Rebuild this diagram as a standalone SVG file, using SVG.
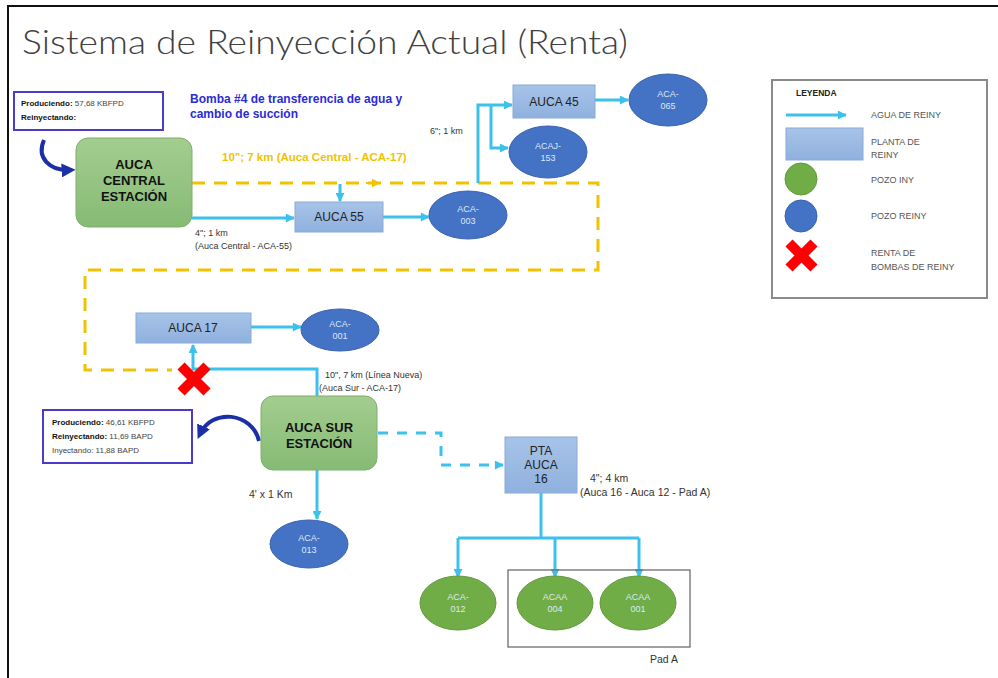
<svg xmlns="http://www.w3.org/2000/svg" width="998" height="678" viewBox="0 0 998 678">
  <defs>
    <linearGradient id="gStation" x1="0" y1="0" x2="0" y2="1">
      <stop offset="0" stop-color="#a3cd8f"/>
      <stop offset="1" stop-color="#86bb74"/>
    </linearGradient>
    <linearGradient id="gPlant" x1="0" y1="0" x2="0" y2="1">
      <stop offset="0" stop-color="#a7c3e8"/>
      <stop offset="1" stop-color="#8fb1de"/>
    </linearGradient>
    <marker id="arrBlue" viewBox="0 0 10 10" refX="9" refY="5" markerWidth="10" markerHeight="9" markerUnits="userSpaceOnUse" orient="auto">
      <path d="M0,0 L10,5 L0,10 z" fill="#3cc1ec"/>
    </marker>
    <marker id="arrDark" viewBox="0 0 10 10" refX="6" refY="5" markerWidth="14" markerHeight="14" markerUnits="userSpaceOnUse" orient="auto">
      <path d="M0,0 L10,5 L0,10 z" fill="#1b2fa6"/>
    </marker>
    <marker id="arrYellow" viewBox="0 0 10 10" refX="5" refY="5" markerWidth="9" markerHeight="9" markerUnits="userSpaceOnUse" orient="auto">
      <path d="M0,0 L10,5 L0,10 z" fill="#f2c200"/>
    </marker>
    <style>
      .title { font-family: Lato, "Open Sans", "Liberation Sans", sans-serif; font-weight: 300; font-size: 34px; fill: #404040; }
      .station { fill: url(#gStation); stroke: #7fae6d; stroke-width: 1; }
      .stationTxt { font-family: "Liberation Sans", Arial, sans-serif; font-weight: bold; font-size: 13px; fill: #111; text-anchor: middle; }
      .plant { fill: url(#gPlant); stroke: #8aaad6; stroke-width: 1; }
      .plantTxt { font-family: "Liberation Sans", Arial, sans-serif; font-size: 12px; fill: #222; text-anchor: middle; }
      .wellR { fill: #4472c4; stroke: #3a63ad; stroke-width: 1; }
      .wellI { fill: #70ad47; stroke: #62983e; stroke-width: 1; }
      .wellTxt { font-family: "Liberation Sans", Arial, sans-serif; font-size: 9px; fill: #dfe7f6; text-anchor: middle; }
      .pipe { fill: none; stroke: #3cc1ec; stroke-width: 3; }
      .pipeDash { fill: none; stroke: #3cc1ec; stroke-width: 3; stroke-dasharray: 10 9; }
      .yellow { fill: none; stroke: #f2c200; stroke-width: 3; stroke-dasharray: 13 9; }
      .curve { fill: none; stroke: #1b2fa6; stroke-width: 4; }
      .lbl { font-family: "Liberation Sans", Arial, sans-serif; font-size: 9px; fill: #333; }
      .lblY { font-family: "Liberation Sans", Arial, sans-serif; font-weight: bold; font-size: 11.5px; fill: #f2c200; }
      .lblB { font-family: "Liberation Sans", Arial, sans-serif; font-weight: bold; font-size: 12px; fill: #2b2bd6; }
      .info { fill: #fff; stroke: #4a3cc8; stroke-width: 2; }
      .infoTxt { font-family: "Liberation Sans", Arial, sans-serif; font-size: 8px; fill: #444; }
      .infoTxt tspan.b { font-weight: bold; fill: #111; }
      .legTxt { font-family: "Liberation Sans", Arial, sans-serif; font-size: 9px; fill: #555; }
      .cross { stroke: #ff0000; stroke-width: 10; stroke-linecap: butt; fill: none; }
    </style>
  </defs>

  <rect x="0" y="0" width="998" height="678" fill="#ffffff"/>
  <!-- slide frame (top and left edges) -->
  <path d="M8,678 V6 H998" fill="none" stroke="#111" stroke-width="2"/>

  <text class="title" x="22" y="54" textLength="606" lengthAdjust="spacingAndGlyphs">Sistema de Reinyección Actual (Renta)</text>

  <!-- connectors -->
  <g id="connectors">
    <!-- 10" transfer line Auca Central to ACA-17 -->
    <path class="yellow" d="M192,183 H598 V270 H85 V370 H172"/>
    <path d="M366,183 H376" stroke="#f2c200" stroke-width="2" marker-end="url(#arrYellow)"/>
    <!-- feed down to Auca 55 -->
    <path class="pipe" d="M340,184 V201" stroke-width="2" marker-end="url(#arrBlue)"/>
    <!-- Auca Central to Auca 55 -->
    <path class="pipe" d="M192,218 H294" marker-end="url(#arrBlue)"/>
    <!-- Auca 55 to ACA-003 -->
    <path class="pipe" d="M383,217 H429" marker-end="url(#arrBlue)"/>
    <!-- 6" riser to Auca 45 and ACAJ-153 -->
    <path class="pipe" d="M478,183 V105 H512" marker-end="url(#arrBlue)"/>
    <path class="pipe" d="M491,105 V148 H508" marker-end="url(#arrBlue)"/>
    <!-- Auca 45 to ACA-065 -->
    <path class="pipe" d="M595,100 H628" marker-end="url(#arrBlue)"/>
    <!-- Auca 17 to ACA-001 -->
    <path class="pipe" d="M251,327 H301" marker-end="url(#arrBlue)"/>
    <!-- new line Auca Sur to Auca 17 -->
    <path class="pipe" d="M317,396 V369 H193 V345" marker-end="url(#arrBlue)"/>
    <!-- Auca Sur to ACA-013 -->
    <path class="pipe" d="M317,470 V519" marker-end="url(#arrBlue)"/>
    <!-- Auca Sur to PTA Auca 16 -->
    <path class="pipeDash" d="M378,433 H441 V465 H503" marker-end="url(#arrBlue)"/>
    <!-- PTA Auca 16 distribution -->
    <path class="pipe" d="M541,493 V538"/>
    <path class="pipe" d="M458,538 H639"/>
    <path class="pipe" d="M458,538 V577" marker-end="url(#arrBlue)"/>
    <path class="pipe" d="M555,538 V577" marker-end="url(#arrBlue)"/>
    <path class="pipe" d="M639,538 V577" marker-end="url(#arrBlue)"/>
    <!-- recirculation curves -->
    <path class="curve" d="M44,140 C36,158 50,171 70,170" marker-end="url(#arrDark)"/>
    <path class="curve" d="M259,441 C252,412 212,408 200,434" marker-end="url(#arrDark)"/>
  </g>

  <!-- connector labels -->
  <text class="lblB" x="190" y="103">Bomba #4 de transferencia de agua y</text>
  <text class="lblB" x="190" y="118">cambio de succión</text>
  <text class="lblY" x="222" y="161">10"; 7 km (Auca Central -  ACA-17)</text>
  <text class="lbl" x="195" y="236">4"; 1 km</text>
  <text class="lbl" x="195" y="249">(Auca Central -  ACA-55)</text>
  <text class="lbl" x="430" y="134">6"; 1 km</text>
  <text class="lbl" x="325" y="378">10", 7 km (Línea Nueva)</text>
  <text class="lbl" x="319" y="391">(Auca Sur  -  ACA-17)</text>
  <text class="lbl" x="249" y="498" style="font-size:10.5px">4' x 1 Km</text>
  <text class="lbl" x="590" y="482" style="font-size:10.5px">4"; 4 km</text>
  <text class="lbl" x="580" y="496" style="font-size:10.5px">(Auca 16 -  Auca 12 - Pad A)</text>

  <!-- info boxes -->
  <g id="info-central">
    <rect class="info" x="14" y="92" width="149" height="38"/>
    <text class="infoTxt" x="21" y="106"><tspan class="b">Produciendo:</tspan> 57,68 KBFPD</text>
    <text class="infoTxt" x="21" y="120"><tspan class="b">Reinyectando:</tspan></text>
  </g>
  <g id="info-sur">
    <rect class="info" x="43" y="410" width="149" height="53"/>
    <text class="infoTxt" x="52" y="425"><tspan class="b">Produciendo:</tspan> 46,61 KBFPD</text>
    <text class="infoTxt" x="52" y="439"><tspan class="b">Reinyectando:</tspan> 11,69 BAPD</text>
    <text class="infoTxt" x="52" y="453">Inyectando: 11,88 BAPD</text>
  </g>

  <!-- stations -->
  <g id="auca-central">
    <rect class="station" x="76" y="138" width="116" height="89" rx="12"/>
    <text class="stationTxt" x="134" y="169">AUCA</text>
    <text class="stationTxt" x="134" y="185">CENTRAL</text>
    <text class="stationTxt" x="134" y="201">ESTACIÓN</text>
  </g>
  <g id="auca-sur">
    <rect class="station" x="261" y="396" width="116" height="74" rx="12"/>
    <text class="stationTxt" x="319" y="432">AUCA SUR</text>
    <text class="stationTxt" x="319" y="448">ESTACIÓN</text>
  </g>

  <!-- reinjection plants -->
  <g id="auca-55">
    <rect class="plant" x="295" y="202" width="88" height="30"/>
    <text class="plantTxt" x="339" y="221">AUCA 55</text>
  </g>
  <g id="auca-45">
    <rect class="plant" x="513" y="85" width="82" height="33"/>
    <text class="plantTxt" x="554" y="106">AUCA 45</text>
  </g>
  <g id="auca-17">
    <rect class="plant" x="136" y="313" width="115" height="30"/>
    <text class="plantTxt" x="193" y="332">AUCA 17</text>
  </g>
  <g id="pta-auca-16">
    <rect class="plant" x="505" y="437" width="72" height="56"/>
    <text class="plantTxt" x="541" y="455">PTA</text>
    <text class="plantTxt" x="541" y="469">AUCA</text>
    <text class="plantTxt" x="541" y="483">16</text>
  </g>

  <!-- reinjection wells -->
  <g id="aca-065">
    <ellipse class="wellR" cx="668" cy="100" rx="39" ry="26"/>
    <text class="wellTxt" x="668" y="97">ACA-</text>
    <text class="wellTxt" x="668" y="109">065</text>
  </g>
  <g id="acaj-153">
    <ellipse class="wellR" cx="548" cy="152" rx="39" ry="26"/>
    <text class="wellTxt" x="548" y="149">ACAJ-</text>
    <text class="wellTxt" x="548" y="161">153</text>
  </g>
  <g id="aca-003">
    <ellipse class="wellR" cx="468" cy="215" rx="39" ry="24"/>
    <text class="wellTxt" x="468" y="212">ACA-</text>
    <text class="wellTxt" x="468" y="224">003</text>
  </g>
  <g id="aca-001">
    <ellipse class="wellR" cx="340" cy="330" rx="39" ry="21"/>
    <text class="wellTxt" x="340" y="327">ACA-</text>
    <text class="wellTxt" x="340" y="339">001</text>
  </g>
  <g id="aca-013">
    <ellipse class="wellR" cx="309" cy="544" rx="39" ry="24"/>
    <text class="wellTxt" x="309" y="541">ACA-</text>
    <text class="wellTxt" x="309" y="553">013</text>
  </g>

  <!-- injection wells -->
  <g id="pad-a">
    <rect x="508" y="570" width="182" height="77" fill="none" stroke="#6d6d6d" stroke-width="1.3"/>
    <text class="lbl" x="650" y="663" style="font-size:10.5px">Pad A</text>
  </g>
  <g id="aca-012">
    <ellipse class="wellI" cx="458" cy="603" rx="38" ry="27"/>
    <text class="wellTxt" x="458" y="600">ACA-</text>
    <text class="wellTxt" x="458" y="612">012</text>
  </g>
  <g id="acaa-004">
    <ellipse class="wellI" cx="555" cy="603" rx="38" ry="27"/>
    <text class="wellTxt" x="555" y="600">ACAA</text>
    <text class="wellTxt" x="555" y="612">004</text>
  </g>
  <g id="acaa-001">
    <ellipse class="wellI" cx="638" cy="603" rx="38" ry="27"/>
    <text class="wellTxt" x="638" y="600">ACAA</text>
    <text class="wellTxt" x="638" y="612">001</text>
  </g>

  <!-- rented pump marker -->
  <g id="renta-x">
    <path class="cross" d="M181,366 L207,392 M207,366 L181,392"/>
  </g>

  <!-- legend -->
  <g id="legend">
    <rect x="772" y="80" width="215" height="218" fill="#fff" stroke="#8a8a8a" stroke-width="2"/>
    <text class="legTxt" x="796" y="96" style="font-weight:bold;fill:#222;font-size:8.5px">LEYENDA</text>
    <path class="pipe" d="M786,115 H846" marker-end="url(#arrBlue)"/>
    <text class="legTxt" x="871" y="118">AGUA DE REINY</text>
    <rect class="plant" x="786" y="128" width="77" height="32"/>
    <text class="legTxt" x="871" y="145">PLANTA DE</text>
    <text class="legTxt" x="871" y="158">REINY</text>
    <circle class="wellI" cx="801" cy="179" r="16"/>
    <text class="legTxt" x="871" y="183">POZO INY</text>
    <circle class="wellR" cx="801" cy="216" r="16"/>
    <text class="legTxt" x="871" y="219">POZO REINY</text>
    <path class="cross" d="M789,243 L814,268 M814,243 L789,268"/>
    <text class="legTxt" x="871" y="256">RENTA DE</text>
    <text class="legTxt" x="871" y="270">BOMBAS DE REINY</text>
  </g>
</svg>
